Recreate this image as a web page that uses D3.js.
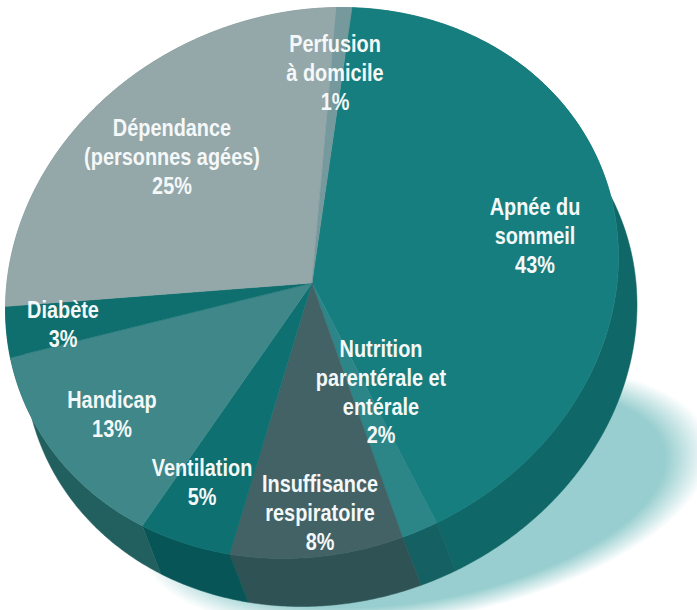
<!DOCTYPE html>
<html lang="fr">
<head>
<meta charset="utf-8">
<title>Répartition des prestations</title>
<script src="https://cdnjs.cloudflare.com/ajax/libs/d3/7.8.5/d3.min.js"></script>
<style>
html, body { margin: 0; padding: 0; background: #fff; overflow: hidden; }
svg { display: block; }
.label { font-family: "Liberation Sans", sans-serif; font-weight: 700; font-size: 23px; fill: #f4f8f8; text-anchor: middle; }
</style>
</head>
<body>
<svg width="697" height="610"></svg>
<script>
// Slices, clockwise from the top
const names = [
    ['Apnée du', 'sommeil'],
    ['Nutrition', 'parentérale et', 'entérale'],
    ['Insuffisance', 'respiratoire'],
    ['Ventilation'],
    ['Handicap'],
    ['Diabète'],
    ['Dépendance', '(personnes agées)'],
    ['Perfusion', 'à domicile']
];
// Printed percentages
const percents = [43, 2, 8, 5, 13, 3, 25, 1];
// The drawing doesn't quite follow the printed numbers, these are the slice sizes read off the rim
const drawnShares = [41.2, 1.9, 9.1, 5, 12.8, 3, 26.1, 0.8];

const topColors = ['#167e7e', '#2c8688', '#426265', '#0e7070', '#3f8788', '#0e6f6e', '#94a7a9', '#75999c'];
const sideColors = ['#106767', '#146062', '#2f5354', '#075556', '#226060', '#0a5f5f', '#7a8c8e', '#65868a'];

// Label anchors: center x and first baseline
const labelX = [535, 381, 320, 202, 112, 63, 172, 335];
const labelY = [215, 357, 492, 476, 408, 318, 136, 52];
const lineHeight = 28.8;
const narrow = 0.865; // no condensed font installed, squeeze the text instead

const cx = 312, cy = 283, rx = 306.5, ry = 275.5;
const depthX = 18.5, depthY = 48;
const skew = 0.095; // the disc is slightly tilted, bulges to the lower left

const svg = d3.select('svg');

const x = d3.scaleLinear().domain([-1, 1]).range([cx - rx, cx + rx]);
const y = d3.scaleLinear().domain([-1, 1]).range([cy - ry, cy + ry]);
const line = d3.line();

const slices = d3.pie()
    .sort(null)
    .startAngle(7.5 * Math.PI / 180)
    .endAngle(7.5 * Math.PI / 180 + 2 * Math.PI)(drawnShares);

// Points along the rim between two angles (0 = top, clockwise)
function rim(a0, a1, dx, dy) {
    const angles = d3.range(a0, a1, 0.01).concat([a1]);
    return angles.map(function(a) {
        return [x(Math.sin(a)) + dx, y(-Math.cos(a - skew)) + dy];
    });
}

function plot_shadow() {
    const grad = svg.append('defs').append('radialGradient').attr('id', 'shadow');
    grad.append('stop').attr('offset', '84%').attr('stop-color', '#98cecf');
    grad.append('stop').attr('offset', '100%').attr('stop-color', '#98cecf').attr('stop-opacity', 0);

    svg.append('ellipse')
        .attr('transform', 'translate(425,497) rotate(-11)')
        .attr('rx', 290)
        .attr('ry', 122)
        .attr('fill', 'url(#shadow)');
}

// Side wall of every slice: the rim swept down to the lower rim
function plot_sides() {
    svg.selectAll('path.side')
        .data(slices)
        .enter().append('path')
        .classed('side', true)
        .attr('d', function(d) {
            const upper = rim(d.startAngle, d.endAngle, 0, 0);
            const lower = rim(d.startAngle, d.endAngle, depthX, depthY).reverse();
            return line(upper.concat(lower)) + 'Z';
        })
        .attr('fill', function(d, i) { return sideColors[i]; })
        .attr('stroke', function(d, i) { return sideColors[i]; })
        .attr('stroke-width', 0.5);
}

function plot_top() {
    svg.selectAll('path.slice')
        .data(slices)
        .enter().append('path')
        .classed('slice', true)
        .attr('d', function(d) {
            return line([[cx, cy]].concat(rim(d.startAngle, d.endAngle, 0, 0))) + 'Z';
        })
        .attr('fill', function(d, i) { return topColors[i]; })
        .attr('stroke', function(d, i) { return topColors[i]; })
        .attr('stroke-width', 0.5);
}

function plot_labels() {
    const labels = svg.selectAll('text.label')
        .data(names)
        .enter().append('text')
        .classed('label', true)
        .attr('transform', function(d, i) { return 'translate(' + labelX[i] + ',' + labelY[i] + ') scale(' + narrow + ',1)'; });

    labels.selectAll('tspan')
        .data(function(d, i) { return d.concat([percents[i] + '%']); })
        .enter().append('tspan')
        .attr('x', 0)
        .attr('y', function(d, j) { return j * lineHeight; })
        .text(function(d) { return d; });
}

plot_shadow();
plot_sides();
plot_top();
plot_labels();
</script>
</body>
</html>
